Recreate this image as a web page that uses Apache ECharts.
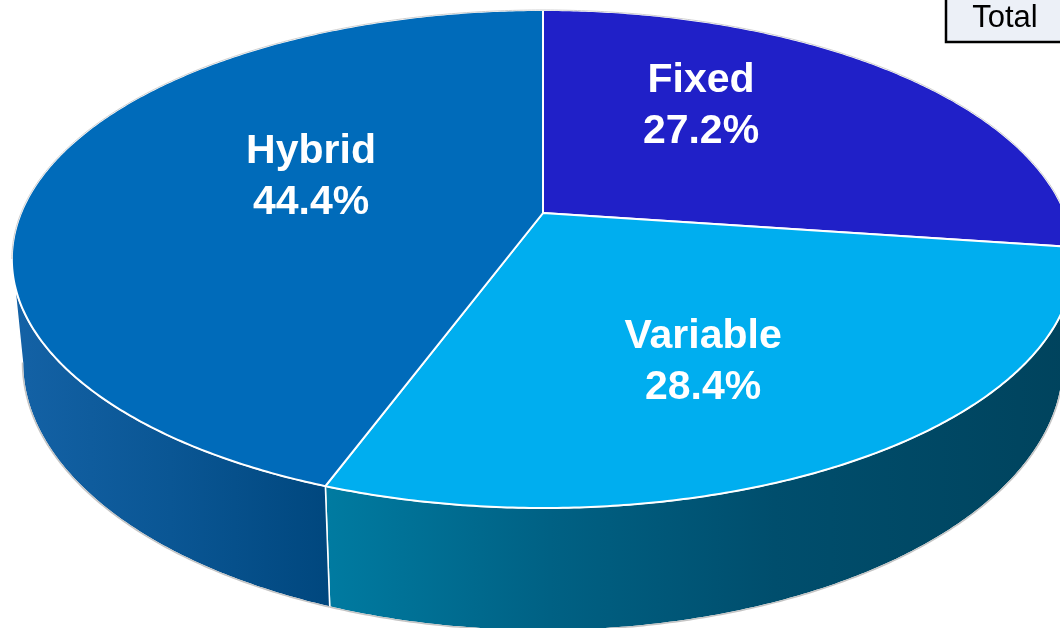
<!DOCTYPE html>
<html>
<head>
<meta charset="utf-8">
<script src="https://cdn.jsdelivr.net/npm/echarts@6/dist/echarts.min.js"></script>
<style>
  html, body { margin: 0; padding: 0; background: #fff; }
  #main { width: 1060px; height: 628px; }
</style>
</head>
<body>
<div id="main"></div>
<script>
// data
const categories = ['Fixed', 'Variable', 'Hybrid'];
const shares = [27.2, 28.4, 44.4];
const legendTitle = 'Total';

// styles
const topColors = ['#2020C8', '#00AEEF', '#006BBA'];
const sideStops = [
  [['#1c1c9e', 0], ['#14147a', 1]],
  [['#007BA1', 0], ['#006184', 0.3], ['#004E6D', 0.6], ['#00435D', 1]],
  [['#1462A6', 0], ['#0A5694', 0.5], ['#00477E', 1]]
];
// label nudges (px) relative to mid-angle anchor
const labelNudge = [[-10, -39], [30, 49], [-4, -17]];

// pie geometry (pseudo perspective)
const CX = 543, CY = 213;   // apex
const RB = 522, RA = 240.5; // horizontal / depth radius
const K = 0.1847;           // perspective factor
const DEPTH = 100;          // thickness
const SHRINK = 0.02;        // bottom rim slightly narrower (further away)
const VIS0 = Math.acos(-K) * 180 / Math.PI;  // side visible from
const VIS1 = 360 - VIS0;                     // to

const total = shares.reduce((s, v) => s + v, 0);
const starts = [];
shares.reduce((acc, v, i) => { starts[i] = acc; return acc + v; }, 0);

function proj(deg, r, h) {
  const t = deg * Math.PI / 180;
  const u = Math.sin(t) * r, v = -Math.cos(t) * r;
  const d = 1 - K * v;
  return [CX + RB * u / d * (1 - SHRINK * h), CY + (RA * v + DEPTH * h) / d];
}
function arc(a, b, h) {
  const n = Math.max(2, Math.ceil((b - a) / 0.5));
  const pts = [];
  for (let i = 0; i <= n; i++) pts.push(proj(a + (b - a) * i / n, 1, h));
  return pts;
}

function renderItem(params, api) {
  const i = params.dataIndex;
  const a0 = starts[i] / total * 360;
  const a1 = (starts[i] + api.value(0)) / total * 360;
  const children = [];

  // side wall
  const s0 = Math.max(a0, VIS0), s1 = Math.min(a1, VIS1);
  if (s1 > s0) {
    const topArc = arc(s0, s1, 0);
    const botArc = arc(s0, s1, 1);
    const pts = topArc.concat(botArc.slice().reverse());
    let xmin = Infinity, xmax = -Infinity;
    pts.forEach(p => { xmin = Math.min(xmin, p[0]); xmax = Math.max(xmax, p[0]); });
    children.push({
      type: 'polygon', z2: 1,
      shape: { points: pts },
      style: {
        fill: new echarts.graphic.LinearGradient(xmin, 0, xmax, 0,
          sideStops[i].map(s => ({ offset: s[1], color: s[0] })), true),
        stroke: '#ffffff', lineWidth: 1.5
      }
    });
    children.push({
      type: 'polyline', z2: 2,
      shape: { points: botArc },
      style: { stroke: '#c4c4c4', lineWidth: 1.5, fill: null }
    });
  }

  // top face
  children.push({
    type: 'polygon', z2: 5,
    shape: { points: [[CX, CY]].concat(arc(a0, a1, 0)) },
    style: { fill: topColors[i], stroke: '#ffffff', lineWidth: 2 }
  });

  // back rim outline
  [[a0, Math.min(a1, VIS0)], [Math.max(a0, VIS1), a1]].forEach(r => {
    if (r[1] > r[0]) {
      children.push({
        type: 'polyline', z2: 6,
        shape: { points: arc(r[0], r[1], 0) },
        style: { stroke: '#cfcfcf', lineWidth: 1, fill: null }
      });
    }
  });

  // label
  const mid = proj((a0 + a1) / 2, 0.45, 0);
  children.push({
    type: 'text', z2: 10,
    x: mid[0] + labelNudge[i][0],
    y: mid[1] + labelNudge[i][1],
    style: {
      text: categories[i] + '\n' + api.value(0).toFixed(1) + '%',
      fill: '#ffffff',
      font: 'bold 41px "Liberation Sans", Arial, sans-serif',
      lineHeight: 51,
      align: 'center',
      verticalAlign: 'middle'
    }
  });

  return { type: 'group', children: children };
}

var myChart = echarts.init(document.getElementById('main'), null, { renderer: 'canvas' });
var option = {
  backgroundColor: '#ffffff',
  animation: false,
  series: [
    {
      type: 'custom',
      coordinateSystem: 'none',
      renderItem: renderItem,
      data: shares.map((v, i) => ({ name: categories[i], value: [v] }))
    }
  ],
  graphic: [
    {
      type: 'rect',
      z: 100,
      shape: { x: 946, y: -6, width: 130, height: 48 },
      style: { fill: '#ECF0F7', stroke: '#000000', lineWidth: 2.5 }
    },
    {
      type: 'text',
      z: 101,
      x: 1005, y: 18,
      style: {
        text: legendTitle,
        fill: '#000000',
        font: '31px "Liberation Sans", Arial, sans-serif',
        align: 'center',
        verticalAlign: 'middle'
      }
    }
  ]
};
option && myChart.setOption(option);
</script>
</body>
</html>
